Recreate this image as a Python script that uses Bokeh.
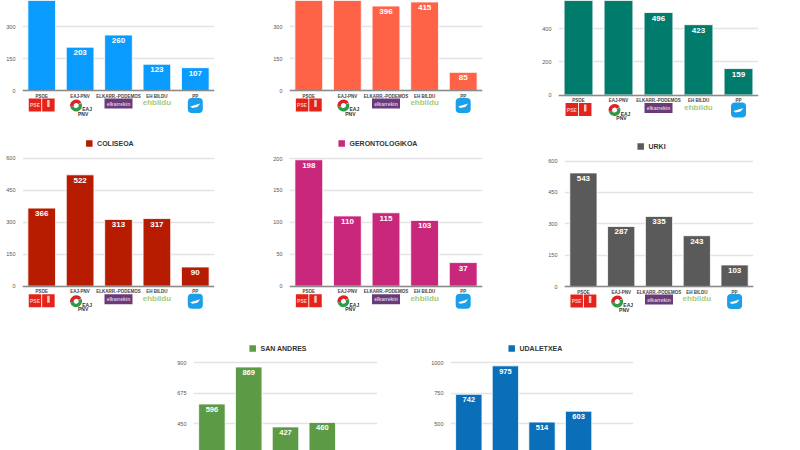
from bokeh.plotting import figure
from bokeh.layouts import column, row
from bokeh.models import ColumnDataSource, FixedTicker, Range1d
from bokeh.core.properties import value
from bokeh.embed import file_html
from bokeh.resources import INLINE

PARTIES = ["PSOE", "EAJ-PNV", "ELKARR.-PODEMOS", "EH BILDU", "PP"]

# values (tall bars in the top row run off the picture: estimated)
chart_a = [480, 203, 260, 123, 107]
chart_b = [470, 450, 396, 415, 85]
chart_c = [640, 650, 496, 423, 159]
coliseoa = [366, 522, 313, 317, 90]
gerontologikoa = [198, 110, 115, 103, 37]
urki = [543, 287, 335, 243, 103]
san_andres = [596, 869, 427, 460]
udaletxea = [742, 975, 514, 603]

ticks_a = [0, 150, 300]
ticks_c = [0, 200, 400]
ticks_col = [0, 150, 300, 450, 600]
ticks_ger = [0, 50, 100, 150, 200]
ticks_sa = [450, 675, 900]
ticks_uda = [500, 750, 1000]

FONT = "Liberation Sans"
GF = value(FONT)


def draw_logos(p, px0, step, base):
    kw = dict(x_range_name="px", y_range_name="py")
    # PSOE
    c = px0 + step * 0.5
    p.rect([c - 6.7, c + 6.7], [base + 14.5] * 2, 12.5, 13, fill_color="#e4231b", line_color=None,
           width_units="screen", height_units="screen", **kw)
    p.text([c - 6.7], [base + 14.5], text=["PSE"], text_color="#f7c4bd", text_font=GF, text_font_style="bold",
           text_font_size="5px", text_align="center", text_baseline="middle", **kw)
    p.rect([c + 6.7], [base + 13], 2.5, 7, fill_color="#f7c4bd", line_color=None,
           width_units="screen", height_units="screen", **kw)
    # EAJ-PNV
    c = px0 + step * 1.5
    p.annular_wedge([c - 4], [base + 15], 2.5, 6, 0.5, 3.4, inner_radius_units="screen", outer_radius_units="screen",
                    fill_color="#d8232a", line_color=None, **kw)
    p.annular_wedge([c - 4], [base + 15], 2.5, 6, 3.4, 6.7, inner_radius_units="screen", outer_radius_units="screen",
                    fill_color="#2f9a4a", line_color=None, **kw)
    p.text([c + 7, c + 3], [base + 18.5, base + 23], text=["EAJ", "PNV"], text_color="#333333", text_font=GF,
           text_font_style="bold", text_font_size="5px", text_align="center", text_baseline="middle", **kw)
    # Elkarrekin Podemos
    c = px0 + step * 2.5
    p.rect([c], [base + 13], 28, 10, fill_color="#6b3a78", line_color=None,
           width_units="screen", height_units="screen", **kw)
    p.text([c], [base + 13], text=["elkarrekin"], text_color="#d9c6dd", text_font=GF, text_font_style="bold",
           text_font_size="5px", text_align="center", text_baseline="middle", **kw)
    # EH Bildu
    c = px0 + step * 3.5
    p.text([c], [base + 12], text=["ehbildu"], text_color="#a3cb75", text_font=GF, text_font_style="bold",
           text_font_size="8px", text_align="center", text_baseline="middle", **kw)
    # PP
    c = px0 + step * 4.5
    p.rect([c], [base + 15], 15, 15, fill_color="#1a9fe8", line_color=None, border_radius=4,
           width_units="screen", height_units="screen", **kw)
    p.patch([c - 5, c + 5, c + 2, c - 3], [base + 16, base + 13, base + 16.5, base + 17.5],
            fill_color="white", line_color=None, **kw)


def chart(values, ticks, color, title, box, frame, baseline, tick_y, tick_val,
          sq_x=None, title_y=None, label_size="8px"):
    """box = page box (x0, x1, y0, y1) and frame = (fx0, fx1), all in picture pixels."""
    x0, x1, y0, y1 = box
    fx0, fx1 = frame
    unit = (baseline - tick_y) / tick_val
    p = figure(width=x1 - x0, height=y1 - y0, output_backend="svg", toolbar_location=None,
               x_range=Range1d(0, len(PARTIES)),
               y_range=Range1d((baseline - y1) / unit, (baseline - y0) / unit))
    p.min_border_left = fx0 - x0
    p.min_border_right = x1 - fx1
    p.min_border_top = 0
    p.min_border_bottom = 0
    p.outline_line_color = None
    p.background_fill_color = "white"
    p.border_fill_color = "white"
    p.extra_x_ranges = {"px": Range1d(fx0, fx1)}
    p.extra_y_ranges = {"py": Range1d(y1, y0)}

    centers = [i + 0.5 for i in range(len(PARTIES))]
    src = ColumnDataSource(dict(x=centers[: len(values)], value=values))
    p.vbar(x="x", top="value", bottom=0, width=0.72, source=src, fill_color=color,
           line_color="white", line_width=1, line_alpha=0.8)
    top_value = (baseline - y0) / unit
    seen = [(c, v) for c, v in zip(centers, values) if v < top_value]
    lab = ColumnDataSource(dict(x=[c for c, _ in seen], value=[v for _, v in seen], label=[str(v) for _, v in seen]))
    p.text(x="x", y="value", text="label", source=lab, y_offset=3, text_color="white", text_font=GF,
           text_font_style="bold", text_font_size=label_size, text_align="center", text_baseline="top")

    p.xgrid.visible = False
    p.ygrid.ticker = FixedTicker(ticks=ticks)
    p.ygrid.grid_line_color = "#e4e4e4"
    p.ygrid.grid_line_width = 1.5

    p.yaxis.ticker = FixedTicker(ticks=ticks)
    p.yaxis.axis_line_color = None
    p.yaxis.major_tick_line_color = None
    p.yaxis.minor_tick_line_color = None
    p.yaxis.major_tick_out = 0
    p.yaxis.major_tick_in = 0
    p.yaxis.minor_tick_out = 0
    p.yaxis.major_label_text_font = FONT
    p.yaxis.major_label_text_font_size = "5.5px"
    p.yaxis.major_label_text_color = "#555555"
    p.yaxis.major_label_standoff = 7

    if baseline < y1:
        p.xaxis.fixed_location = 0
        p.xaxis.ticker = FixedTicker(ticks=centers)
        p.xaxis.major_label_overrides = dict(zip(centers, PARTIES))
        p.xaxis.axis_line_color = "#8a8a8a"
        p.xaxis.axis_line_width = 1.5
        p.xaxis.major_tick_line_color = None
        p.xaxis.minor_tick_line_color = None
        p.xaxis.major_tick_out = 0
        p.xaxis.major_tick_in = 0
        p.xaxis.minor_tick_out = 0
        p.xaxis.major_label_text_font = FONT
        p.xaxis.major_label_text_font_style = "bold"
        p.xaxis.major_label_text_font_size = "4.5px"
        p.xaxis.major_label_text_color = "#444444"
        p.xaxis.major_label_standoff = 3
        draw_logos(p, fx0, (fx1 - fx0) / 5, baseline)
    else:
        p.xaxis.visible = False
    if title:
        p.rect([sq_x + 3.2], [title_y], 6.5, 6.5, fill_color=color, line_color=None, x_range_name="px", y_range_name="py",
               width_units="screen", height_units="screen")
        p.text([sq_x + 11], [title_y], text=[title], text_color="#333333", text_font=GF, text_font_style="bold",
               text_font_size="7px", text_align="left", text_baseline="middle", x_range_name="px", y_range_name="py")
    return p


R1 = (0, 125)
R2 = (125, 335)
R3 = (335, 450)

top = row(
    chart(chart_a, ticks_a, "#0a9bff", None, (0, 270) + R1, (22, 214), 90, 26, 300),
    chart(chart_b, ticks_a, "#ff6347", None, (270, 530) + R1, (289, 482), 90, 26, 300),
    chart(chart_c, ticks_c, "#007b6c", None, (530, 800) + R1, (558, 758), 94.5, 28, 400),
)
mid = row(
    chart(coliseoa, ticks_col, "#b71c00", "COLISEOA", (0, 270) + R2, (22, 214), 285.7, 157.7, 600, 85.6, 143),
    chart(gerontologikoa, ticks_ger, "#c9277b", "GERONTOLOGIKOA", (270, 530) + R2, (289, 482), 285.7, 158, 200, 338, 143),
    chart(urki, ticks_col, "#5a5a5a", "URKI", (530, 800) + R2, (564, 753), 286, 160.5, 600, 637, 146),
)
bot = row(
    chart(san_andres, ticks_sa, "#5d9a46", "SAN ANDRES", (0, 400) + R3, (193, 377), 484.3, 362.3, 900, 249, 348, "7.5px"),
    chart(udaletxea, ticks_uda, "#0a6fb8", "UDALETXEA", (400, 800) + R3, (450, 633), 484.3, 362.3, 1000, 508, 348, "7.5px"),
)

page = column(top, mid, bot, spacing=0)
open("out.html", "w").write(file_html(page, INLINE))
